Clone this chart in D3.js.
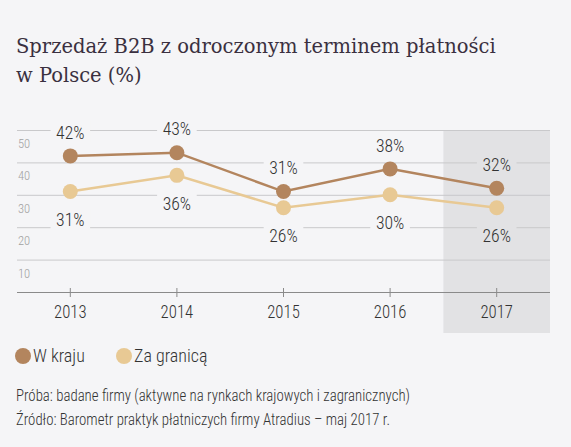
<!DOCTYPE html>
<html><head><meta charset="utf-8">
<script src="https://cdn.jsdelivr.net/npm/d3@7"></script>
<style>
html,body{margin:0;padding:0;background:#f5f5f7;}
svg{display:block;}
</style></head>
<body>
<svg id="c" width="571" height="447"></svg>
<script>
const years = ["2013","2014","2015","2016","2017"];
const domestic = [42, 43, 31, 38, 32];
const foreign = [31, 36, 26, 30, 26];
const yTicks = [10, 20, 30, 40, 50];
const seriesNames = ["W kraju", "Za granicą"];
const colors = ["#b3855e", "#e8c994"];
const highlightYear = "2017";
const titleLines = ["Sprzedaż B2B z odroczonym terminem płatności", "w Polsce (%)"];
const notes = ["Próba: badane firmy (aktywne na rynkach krajowych i zagranicznych)",
               "Źródło: Barometr praktyk płatniczych firmy Atradius – maj 2017 r."];

const NARROW = "'Liberation Sans Narrow','Arial Narrow','Roboto Condensed',sans-serif";
const svg = d3.select("#c");
svg.append("rect").attr("width",571).attr("height",447).attr("fill","#f5f5f7");

const x = d3.scaleBand().domain(years).range([17, 550]);
const y = d3.scaleLinear().domain([0, 50]).range([292, 130]);

function ntext(parent, tx, ty, str, size, fill, anchor, sx){
  const g = parent.append("g").attr("transform",`translate(${tx},${ty}) scale(${sx||0.93},1)`);
  const t = g.append("text").attr("font-family",NARROW).attr("font-weight",300)
    .attr("font-size",size).attr("fill",fill).attr("text-anchor",anchor||"start").text(str);
  return {g, t};
}

// highlight band
svg.append("rect")
  .attr("x", x(highlightYear)).attr("width", x.bandwidth())
  .attr("y", y(50)).attr("height", 333 - y(50))
  .attr("fill", "#e2e2e4");

// title
svg.append("text").attr("font-family","'DejaVu Serif','Liberation Serif',serif")
  .attr("font-size", 19.5).attr("fill","#3a3040")
  .selectAll("tspan").data(titleLines).join("tspan")
  .attr("x", 16).attr("y",(d,i)=>53+i*29).text(d=>d);

// gridlines
svg.append("g").selectAll("line").data(yTicks)
  .join("line").attr("x1",17).attr("x2",550)
  .attr("y1",d=>y(d)+0.5).attr("y2",d=>y(d)+0.5)
  .attr("stroke","#c9c9cb").attr("stroke-width",1);

// y labels (below each line)
const gy = svg.append("g");
yTicks.forEach(d=>ntext(gy, 18, y(d)+18, d, 13.5, "#a0a0a0"));

// x axis
const xAxis = d3.axisBottom(x).tickSize(0).tickPadding(0).tickFormat("");
const gx = svg.append("g").attr("transform","translate(0,292)").call(xAxis);
gx.select(".domain").attr("stroke","#8a8a8a").attr("d","M17,0.5H550");
gx.selectAll(".tick line").remove();
gx.selectAll(".tick").append("line").attr("y1",-4).attr("y2",5).attr("stroke","#8a8a8a");
gx.selectAll(".tick text").remove();
gx.selectAll(".tick").each(function(d){
  ntext(d3.select(this), 0, 26, d, 18, "#333", "middle");
});

const cx = d => x(d) + x.bandwidth()/2;
const series = [domestic, foreign];

const line = d3.line().x((d,i)=>cx(years[i])).y(d=>y(d));
[1,0].forEach(s=>{
  svg.append("path").datum(series[s]).attr("d",line)
    .attr("fill","none").attr("stroke",colors[s]).attr("stroke-width",2.5);
  svg.append("g").selectAll("circle").data(series[s]).join("circle")
    .attr("cx",(d,i)=>cx(years[i])).attr("cy",d=>y(d)).attr("r",7.5)
    .attr("fill",colors[s]);
});

// value labels
function addLabels(data, above){
  const gg = svg.append("g");
  data.forEach((v,i)=>{
    const lx = cx(years[i]);
    const ly = above ? y(v) - 24 : y(v) + 28;
    const bgc = years[i]===highlightYear ? "#e2e2e4" : "#f5f5f7";
    const {g, t} = ntext(gg, lx, ly, v+"%", 19, "#333", "middle");
    t.attr("dy","0.35em");
    const bb = t.node().getBBox();
    g.insert("rect", () => t.node())
      .attr("x",bb.x-6).attr("y",bb.y).attr("width",bb.width+12).attr("height",bb.height)
      .attr("fill",bgc);
  });
}
addLabels(domestic, true);
addLabels(foreign, false);

// legend
const legX = [23, 124];
const lg = svg.append("g");
seriesNames.forEach((n,i)=>{
  lg.append("circle").attr("cx",legX[i]).attr("cy",356).attr("r",8).attr("fill",colors[i]);
  ntext(lg, legX[i]+10, 362, n, 18, "#333", "start", 1.0);
});

// notes
const ng = svg.append("g");
notes.forEach((d,i)=>ntext(ng, 16, 401+i*24, d, 16.5, "#333", "start", 0.9));
</script>
</body></html>
